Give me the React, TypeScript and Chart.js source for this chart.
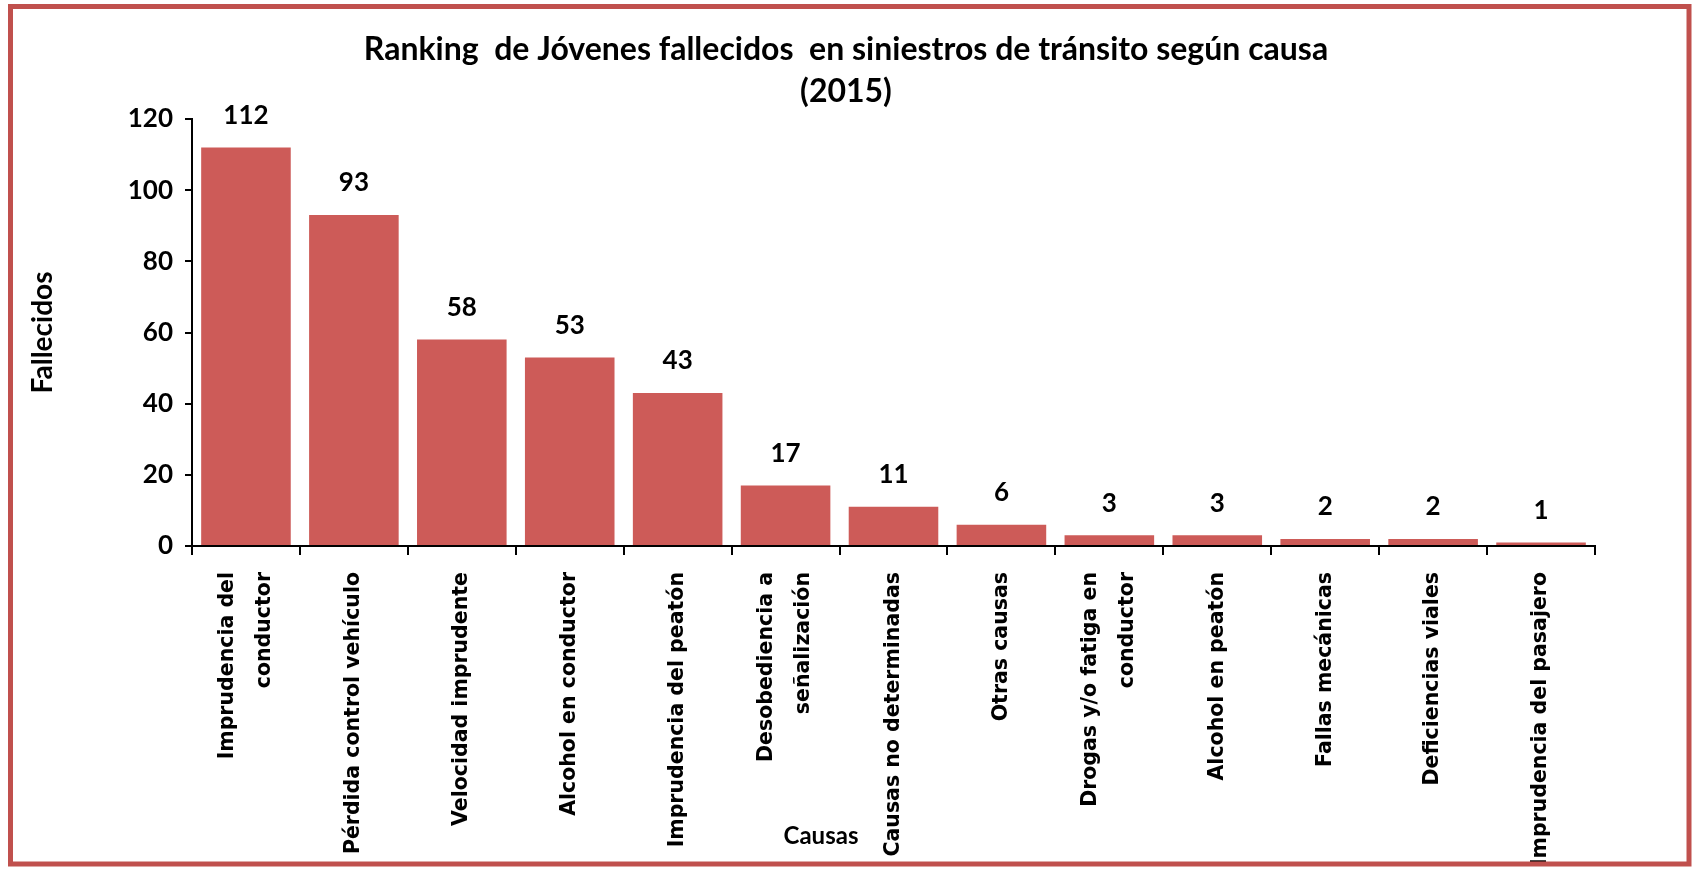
import React, { useEffect, useRef } from 'react';
import { Chart, registerables } from 'chart.js';

Chart.register(...registerables);

const causas: string[][] = [
  ['Imprudencia del', 'conductor'],
  ['Pérdida control vehículo'],
  ['Velocidad imprudente'],
  ['Alcohol en conductor'],
  ['Imprudencia del peatón'],
  ['Desobediencia a', 'señalización'],
  ['Causas no determinadas'],
  ['Otras causas'],
  ['Drogas y/o fatiga en', 'conductor'],
  ['Alcohol en peatón'],
  ['Fallas mecánicas'],
  ['Deficiencias viales'],
  ['Imprudencia del pasajero'],
];
const fallecidos: number[] = [112, 93, 58, 53, 43, 17, 11, 6, 3, 3, 2, 2, 1];
const yMin = 0;
const yMax = 120;
const yStep = 20;
const titleLines: string[] = [
  'Ranking  de Jóvenes fallecidos  en siniestros de tránsito según causa',
  '(2015)',
];
const yTitle = 'Fallecidos';
const xTitle = 'Causas';

const W = 1692;
const H = 869;
const BAR = '#CD5B58';
const FRAME = '#C0504D';
const CAL = 'Lato';

const decor = {
  id: 'decor',
  beforeDraw(chart: any) {
    const ctx = chart.ctx;
    ctx.save();
    ctx.fillStyle = '#fff';
    ctx.fillRect(0, 0, chart.width, chart.height);
    ctx.restore();
  },
  afterDraw(chart: any) {
    const ctx = chart.ctx;
    ctx.save();
    // title
    ctx.fillStyle = '#000';
    ctx.textAlign = 'center';
    ctx.textBaseline = 'middle';
    ctx.font = `bold 32px ${CAL}`;
    ctx.fillText(titleLines[0], chart.width / 2, 50);
    ctx.fillText(titleLines[1], chart.width / 2, 92);
    // data labels
    ctx.font = `bold 26px ${CAL}`;
    const meta = chart.getDatasetMeta(0);
    meta.data.forEach((bar: any, i: number) => {
      ctx.fillText(String(fallecidos[i]), bar.x, bar.y - 32);
    });
    // category labels
    const xs = chart.scales.x;
    ctx.font = 'bold 20.5px "DejaVu Sans"';
    causas.forEach((lines, i) => {
      const px = xs.getPixelForTick(i);
      lines.forEach((line, j) => {
        const off = (j - (lines.length - 1) / 2) * 37;
        ctx.save();
        ctx.translate(px + off, xs.top + 26);
        ctx.rotate(-Math.PI / 2);
        ctx.textAlign = 'right';
        ctx.textBaseline = 'middle';
        ctx.fillText(line, 0, 0);
        ctx.restore();
      });
    });
    // x axis title
    ctx.textAlign = 'center';
    ctx.font = `bold 24px ${CAL}`;
    ctx.fillText(xTitle, 821, 836);
    // frame
    ctx.strokeStyle = FRAME;
    ctx.lineWidth = 5;
    ctx.strokeRect(10.5, 6.5, 1678.5, 857.5);
    ctx.restore();
  },
};

export default function App() {
  const ref = useRef<HTMLCanvasElement>(null);
  useEffect(() => {
    if (!ref.current) return;
    const chart = new Chart(ref.current, {
      type: 'bar',
      data: {
        labels: causas.map((l) => l.join(' ')),
        datasets: [
          {
            data: fallecidos,
            backgroundColor: BAR,
            borderWidth: 0,
            barPercentage: 0.83,
            categoryPercentage: 1,
          },
        ],
      },
      options: {
        animation: false,
        responsive: false,
        devicePixelRatio: 1,
        layout: { padding: { top: 119, right: 97, left: 0, bottom: 0 } },
        plugins: {
          legend: { display: false },
          title: { display: false },
          tooltip: { enabled: false },
        },
        scales: {
          x: {
            type: 'category',
            offset: true,
            grid: {
              offset: true,
              drawOnChartArea: false,
              drawTicks: true,
              tickLength: 9,
              color: '#000',
              lineWidth: 2,
            },
            border: { display: true, color: '#000', width: 2 },
            ticks: { display: false },
            afterFit: (s: any) => {
              s.height = 323;
            },
          },
          y: {
            min: yMin,
            max: yMax,
            ticks: {
              stepSize: yStep,
              color: '#000',
              padding: 12,
              font: { family: CAL, weight: 'bold', size: 26 },
            },
            grid: {
              drawOnChartArea: false,
              drawTicks: true,
              tickLength: 7,
              color: '#000',
              lineWidth: 2,
            },
            border: { display: true, color: '#000', width: 2 },
            title: {
              display: true,
              text: yTitle,
              color: '#000',
              font: { family: CAL, weight: 'bold', size: 28 },
              padding: { top: 26, bottom: 0 },
            },
            afterFit: (s: any) => {
              s.width = 192;
            },
          },
        },
      },
      plugins: [decor],
    } as any);
    return () => chart.destroy();
  }, []);
  return (
    <div style={{ position: 'absolute', left: 0, top: 0, width: W, height: H, background: '#fff' }}>
      <canvas ref={ref} width={W} height={H} style={{ display: 'block' }} />
    </div>
  );
}
